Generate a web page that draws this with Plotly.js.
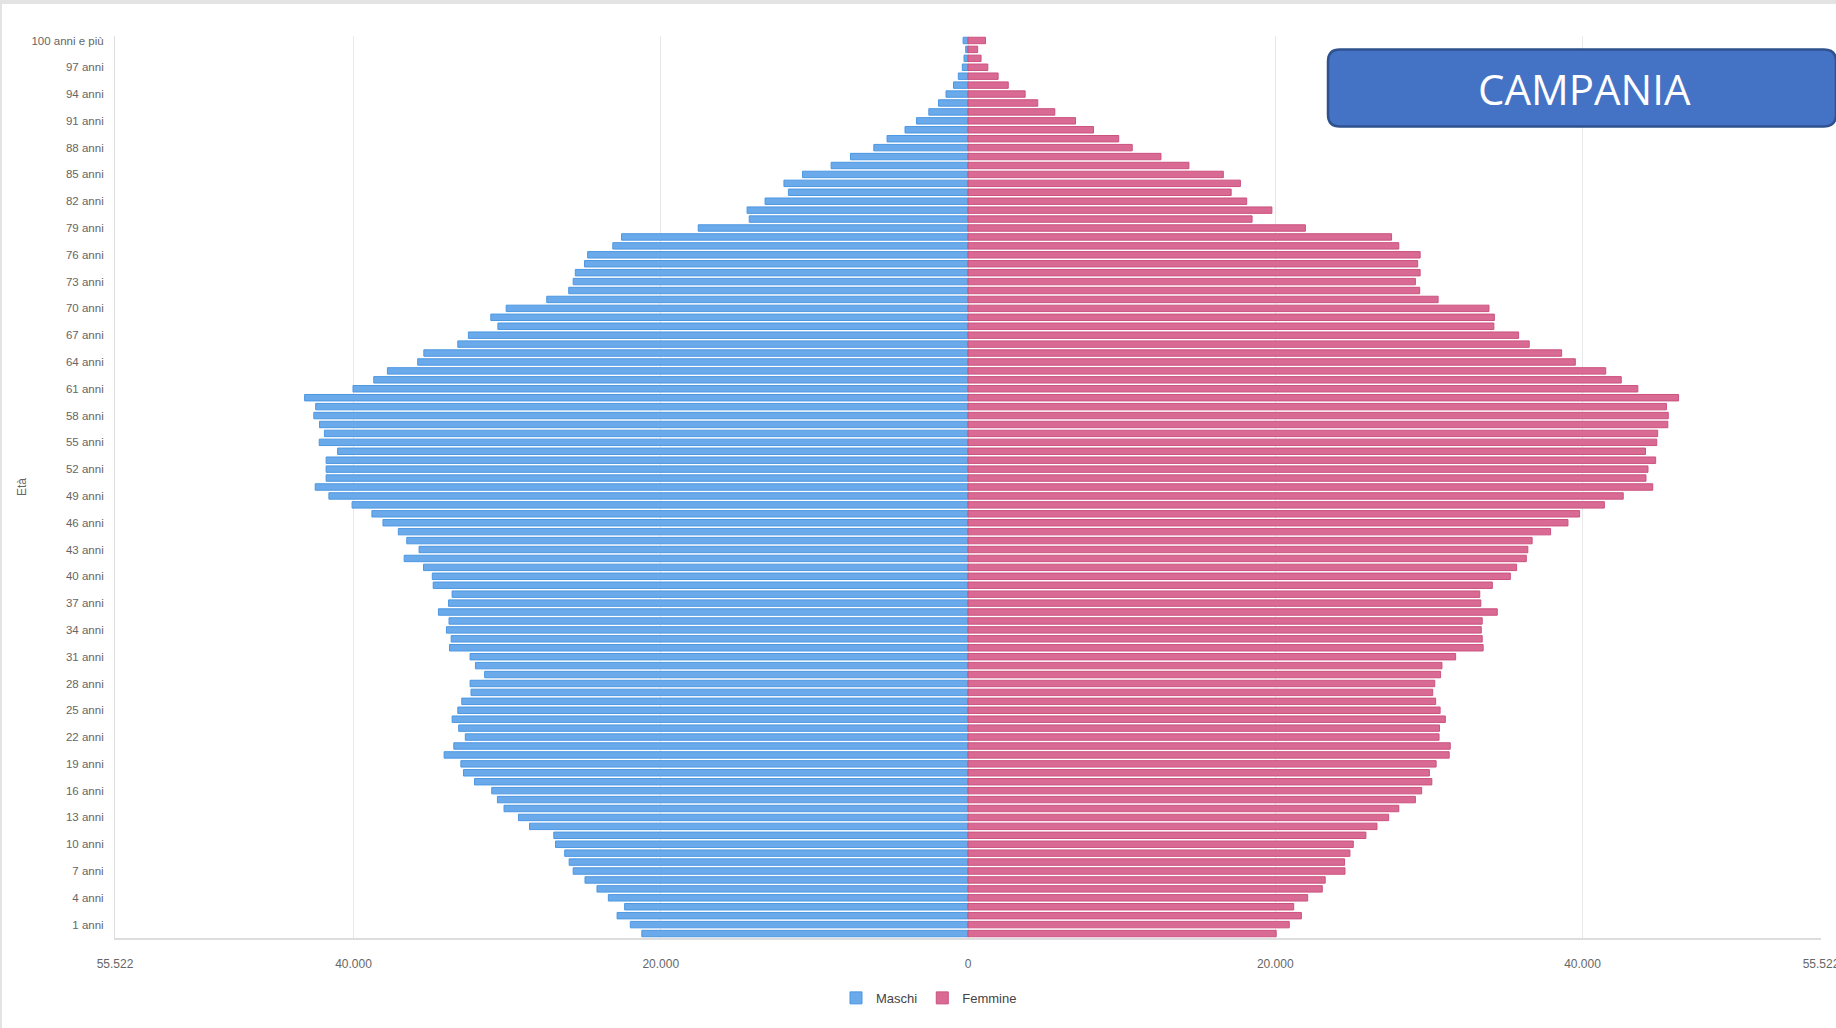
<!DOCTYPE html>
<html>
<head>
<meta charset="utf-8">
<script src="https://cdn.plot.ly/plotly-3.0.1.min.js"></script>
<style>
  html, body { margin: 0; padding: 0; background: #e3e3e3; overflow: hidden; }
  #chart { position: absolute; left: 2px; top: 4px; width: 1834px; height: 1024px; background: #fff; }
</style>
</head>
<body>
<div id="chart"></div>
<script>
// Age classes, from 0 to "100 anni e più"
const ages = [];
for (let a = 0; a < 100; a++) ages.push(a + " anni");
ages.push("100 anni e più");

// Residents by age, index 0 = 0 anni ... 100 = 100 anni e più
const maschi = [
  21230, 21980, 22840, 22350, 23410, 24150, 24930, 25700, 25960, 26250,
  26850, 26960, 28540, 29260, 30200, 30630, 31000, 32120, 32840, 33010,
  34100, 33470, 32720, 33150, 33580, 33210, 32950, 32350, 32410, 31460,
  32060, 32410, 33750, 33640, 33950, 33780, 34470, 33810, 33580, 34810,
  34870, 35440, 36700, 35730, 36530, 37080, 38080, 38800, 40090, 41600,
  42490, 41780, 41780, 41780, 41030, 42230, 41890, 42210, 42580, 42460,
  43180, 40030, 38680, 37790, 35820, 35420, 33210, 32520, 30600, 31060,
  30060, 27420, 25990, 25700, 25560, 24960, 24760, 23120, 22550, 17560,
  14240, 14380, 13210, 11690, 11980, 10770, 8910, 7650, 6130, 5270,
  4100, 3350, 2550, 1920, 1430, 945, 630, 370, 260, 150,
  320
];
const femmine = [
  20060, 20910, 21700, 21200, 22110, 23060, 23250, 24540, 24510, 24860,
  25080, 25900, 26620, 27380, 28040, 29120, 29530, 30190, 30030, 30470,
  31320, 31390, 30660, 30690, 31070, 30730, 30440, 30250, 30380, 30760,
  30850, 31740, 33530, 33470, 33410, 33470, 34450, 33380, 33310, 34130,
  35300, 35710, 36340, 36440, 36720, 37920, 39050, 39810, 41420, 42650,
  44570, 44130, 44260, 44760, 44100, 44830, 44890, 45550, 45580, 45460,
  46250, 43600, 42520, 41510, 39530, 38640, 36530, 35840, 34230, 34260,
  33910, 30600, 29400, 29120, 29430, 29270, 29430, 28040, 27570, 21960,
  18490, 19780, 18140, 17130, 17730, 16620, 14380, 12560, 10690, 9810,
  8170, 7000, 5650, 4540, 3720, 2620, 1960, 1290, 850, 630,
  1140
];

// Axis ticks
const xMax = 55522;
const xTickVals = [-55522, -40000, -20000, 0, 20000, 40000, 55522];
const xTickText = ["55.522", "40.000", "20.000", "0", "20.000", "40.000", "55.522"];
const yTickVals = ages.filter((a, i) => i % 3 === 1);

const fmt = v => v.toLocaleString('it-IT');
const FAM = "'Liberation Sans', Arial, sans-serif";
const tickFont = { family: FAM, size: 12, color: '#666' };

const traces = [
  {
    type: 'bar', orientation: 'h', name: 'Maschi',
    y: ages, x: maschi.map(v => -v), customdata: maschi.map(fmt),
    hovertemplate: '%{y}<br>Maschi: %{customdata}<extra></extra>',
    marker: { color: '#6AAAEA', line: { color: '#4C97E2', width: 1 } }
  },
  {
    type: 'bar', orientation: 'h', name: 'Femmine',
    y: ages, x: femmine, customdata: femmine.map(fmt),
    hovertemplate: '%{y}<br>Femmine: %{customdata}<extra></extra>',
    marker: { color: '#D86A93', line: { color: '#CC527F', width: 1 } }
  }
];

// Rounded label box (paper coordinates)
const W = 1834, H = 1024, mL = 113, mR = 15, mT = 31.5, mB = 89.5;
const pw = W - mL - mR, ph = H - mT - mB;
const px = v => (v - mL) / pw;
const py = v => (H - mB - v) / ph;
const bx0 = px(1326), bx1 = px(1834), by0 = py(45), by1 = py(122);
const rx = 12 / pw, ry = 12 / ph;
const boxPath = `M ${bx0 + rx},${by0} L ${bx1 - rx},${by0} Q ${bx1},${by0} ${bx1},${by0 - ry} ` +
  `L ${bx1},${by1 + ry} Q ${bx1},${by1} ${bx1 - rx},${by1} L ${bx0 + rx},${by1} ` +
  `Q ${bx0},${by1} ${bx0},${by1 + ry} L ${bx0},${by0 - ry} Q ${bx0},${by0} ${bx0 + rx},${by0} Z`;

const layout = {
  width: W, height: H,
  margin: { l: mL, r: mR, t: mT, b: mB },
  paper_bgcolor: '#ffffff', plot_bgcolor: '#ffffff',
  barmode: 'relative', bargap: 0.28,
  font: tickFont,
  showlegend: true,
  legend: {
    orientation: 'h', x: px(927), xanchor: 'center', y: -60 / ph, yanchor: 'middle',
    font: { family: FAM, size: 13, color: '#444' }, traceorder: 'normal'
  },
  xaxis: {
    range: [-xMax, xMax], tickmode: 'array', tickvals: xTickVals, ticktext: xTickText,
    showgrid: true, gridcolor: '#e8e8e8', gridwidth: 1, zeroline: false,
    showline: true, linecolor: '#dddddd', linewidth: 2,
    ticks: 'outside', ticklen: 14, tickcolor: 'rgba(0,0,0,0)',
    ticklabeloverflow: 'allow',
    tickfont: tickFont, fixedrange: true
  },
  yaxis: {
    type: 'category', categoryorder: 'array', categoryarray: ages,
    tickmode: 'array', tickvals: yTickVals, ticktext: yTickVals,
    showgrid: false, zeroline: false, showline: true, linecolor: '#dddddd', linewidth: 1,
    ticks: 'outside', ticklen: 8, tickcolor: 'rgba(0,0,0,0)',
    tickfont: { family: FAM, size: 11.5, color: '#666' },
    title: { text: 'Età', font: { family: FAM, size: 12, color: '#666' }, standoff: 2 },
    fixedrange: true
  },
  shapes: [
    { type: 'path', xref: 'paper', yref: 'paper', path: boxPath,
      fillcolor: '#4472C4', line: { color: '#2F528F', width: 2.5 }, layer: 'above' }
  ],
  annotations: [
    { xref: 'paper', yref: 'paper', x: px(1582), y: py(84), xanchor: 'center', yanchor: 'middle',
      text: 'CAMPANIA', showarrow: false,
      font: { family: "'Open Sans', 'Liberation Sans', sans-serif", size: 42, color: '#ffffff' } }
  ]
};

Plotly.newPlot('chart', traces, layout, { displayModeBar: false, responsive: false });
</script>
</body>
</html>
